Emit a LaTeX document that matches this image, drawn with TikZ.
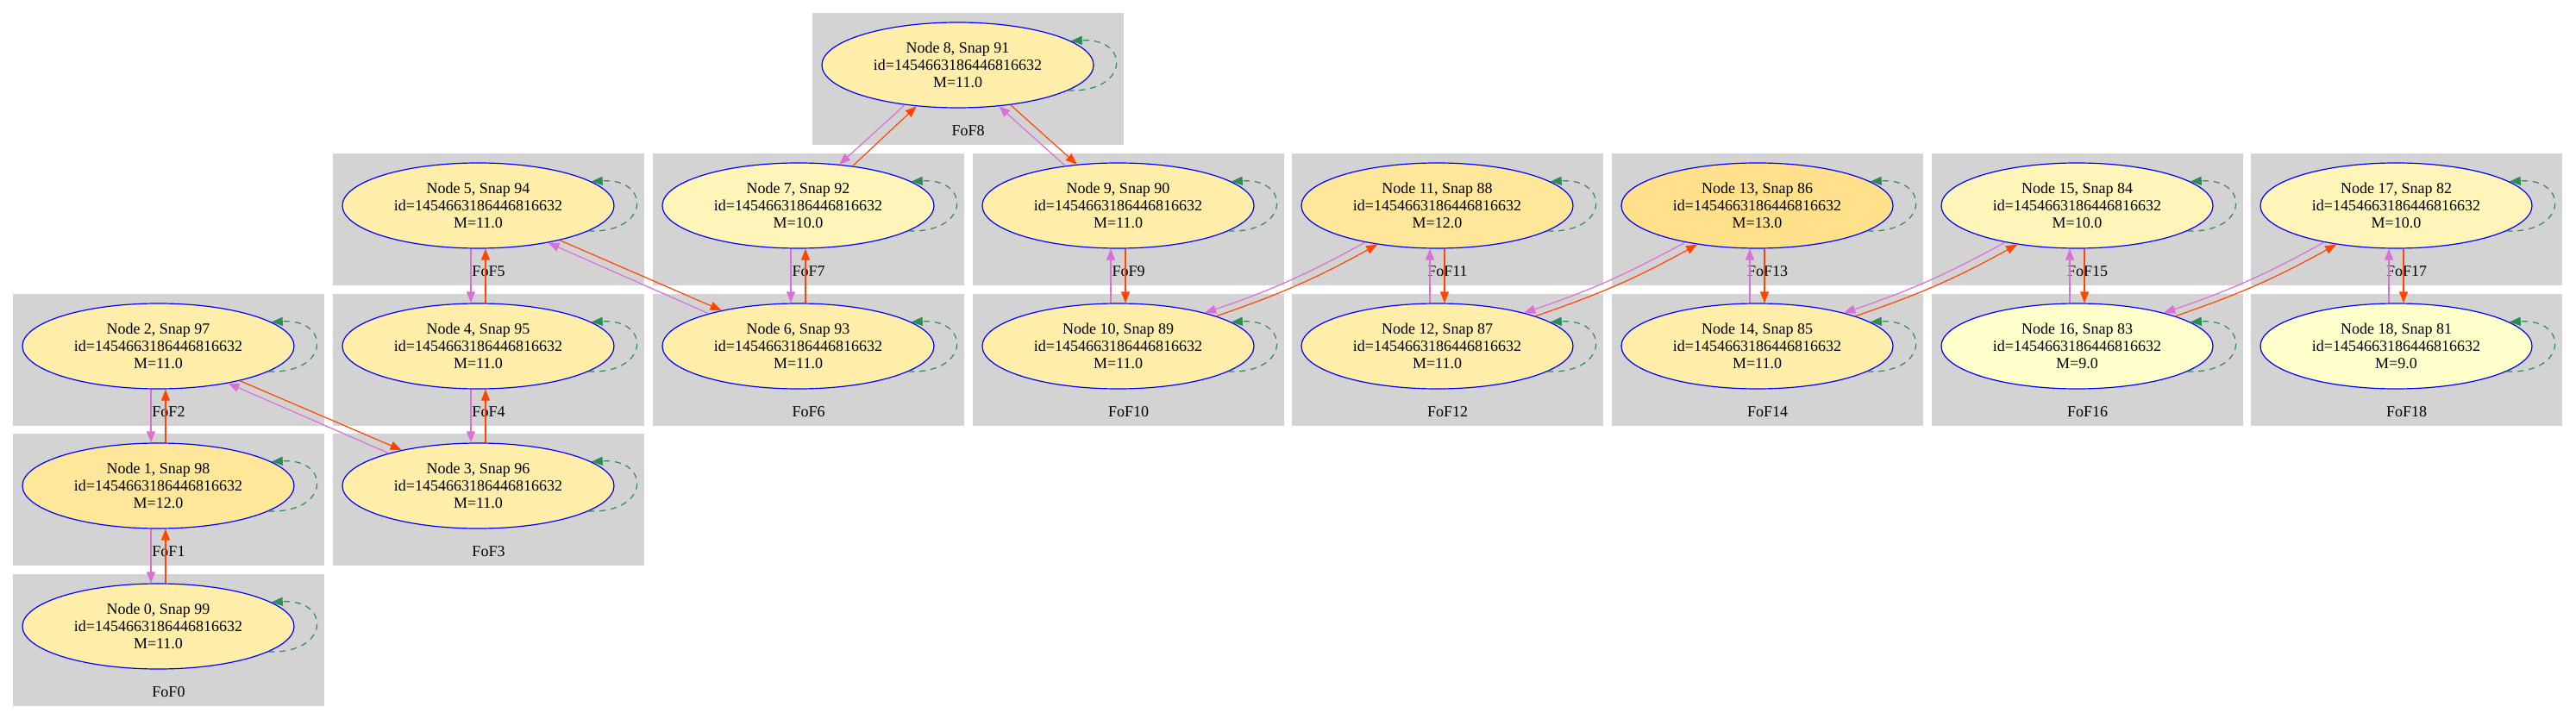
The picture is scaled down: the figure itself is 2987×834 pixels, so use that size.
\documentclass[tikz,border=0pt]{standalone}
\usepackage{fontspec}
\setmainfont{Liberation Serif}
\usetikzlibrary{arrows.meta,shapes.geometric,calc}
\definecolor{clgray}{HTML}{D3D3D3}
\definecolor{orchidc}{HTML}{DA70D6}
\definecolor{orangeredc}{HTML}{FF4500}
\definecolor{seagreenc}{HTML}{2E8B57}
\definecolor{mnine}{HTML}{FFFFCC}
\definecolor{mten}{HTML}{FFF5B8}
\definecolor{meleven}{HTML}{FFEEAA}
\definecolor{mtwelve}{HTML}{FFE799}
\definecolor{mthirteen}{HTML}{FFE08B}
\tikzset{
  clusterbox/.style={fill=clgray, draw=none},
  fofnode/.style={ellipse, draw=blue, line width=0.6pt, minimum width=157.5pt, minimum height=49.5pt, inner sep=0pt, align=center, font=\fontsize{9pt}{10pt}\selectfont},
  foflabel/.style={font=\fontsize{9pt}{10pt}\selectfont, inner sep=0pt},
  tipstyle/.style={-{Triangle[length=6.5pt,width=5pt]}},
  vio/.style={draw=orchidc, line width=0.6pt, tipstyle},
  ora/.style={draw=orangeredc, line width=0.6pt, tipstyle},
  selfloop/.style={draw=seagreenc, line width=0.6pt, dash pattern=on 3.5pt off 3pt, tipstyle}
}
\newcommand\mkfof[6]{%
  \fill[clusterbox] (#2,#3) rectangle ++(361,153);
  \node[fofnode, fill=#6] (n#1) at (#2+168.5,#3+60.5) {Node #1, Snap #4\\id=1454663186446816632\\M=#5};
  \node[foflabel] (l#1) at (#2+180.5,#3+137) {FoF#1};
  \draw[selfloop] (n#1.-13) .. controls ($(n#1.center)+(200,32)$) and ($(n#1.center)+(200,-32)$) .. (n#1.12);
}
\begin{document}
\begin{tikzpicture}[x=0.5pt,y=-0.5pt]
\fill[white] (0,0) rectangle (2987,834);
\useasboundingbox (0,0) rectangle (2987,834);
\mkfof{0}{15}{666}{99}{11.0}{meleven}
\mkfof{1}{15}{503}{98}{12.0}{mtwelve}
\mkfof{2}{15}{341}{97}{11.0}{meleven}
\mkfof{3}{386}{503}{96}{11.0}{meleven}
\mkfof{4}{386}{341}{95}{11.0}{meleven}
\mkfof{5}{386}{178}{94}{11.0}{meleven}
\mkfof{6}{757}{341}{93}{11.0}{meleven}
\mkfof{7}{757}{178}{92}{10.0}{mten}
\mkfof{8}{942}{15}{91}{11.0}{meleven}
\mkfof{9}{1128}{178}{90}{11.0}{meleven}
\mkfof{10}{1128}{341}{89}{11.0}{meleven}
\mkfof{11}{1498}{178}{88}{12.0}{mtwelve}
\mkfof{12}{1498}{341}{87}{11.0}{meleven}
\mkfof{13}{1869}{178}{86}{13.0}{mthirteen}
\mkfof{14}{1869}{341}{85}{11.0}{meleven}
\mkfof{15}{2240}{178}{84}{10.0}{mten}
\mkfof{16}{2240}{341}{83}{9.0}{mnine}
\mkfof{17}{2610}{178}{82}{10.0}{mten}
\mkfof{18}{2610}{341}{81}{9.0}{mnine}
% vertical pairs: upper -> lower
\foreach \u/\d in {2/1,1/0,5/4,4/3,7/6}{
  \draw[vio] ([xshift=-4.25pt]n\u.south) -- ([xshift=-4.25pt]n\d.north);
  \draw[ora] ([xshift=4.25pt]n\d.north) -- ([xshift=4.25pt]n\u.south);
}
% vertical pairs: lower -> upper
\foreach \u/\d in {9/10,11/12,13/14,15/16,17/18}{
  \draw[vio] ([xshift=-4.25pt]n\d.north) -- ([xshift=-4.25pt]n\u.south);
  \draw[ora] ([xshift=4.25pt]n\u.south) -- ([xshift=4.25pt]n\d.north);
}
% down-right diagonals
\foreach \u/\d in {2/3,5/6}{
  \draw[ora] (n\u.-23) -- (n\d.155);
  \draw[vio] (n\d.160) -- (n\u.-28);
}
% around node 8
\draw[vio] (n8.217) -- (n7.45);
\draw[ora] (n7.36) -- (n8.225);
\draw[vio] (n9.143) -- (n8.-45);
\draw[ora] (n8.-37) -- (n9.135);
% up-right diagonals
\foreach \l/\r in {10/11,12/13,14/15,16/17}{
  \draw[vio] (n\r.207) to[bend left=5] (n\l.21);
  \draw[ora] (n\l.17) to[bend right=5] (n\r.213);
}
\end{tikzpicture}
\end{document}
